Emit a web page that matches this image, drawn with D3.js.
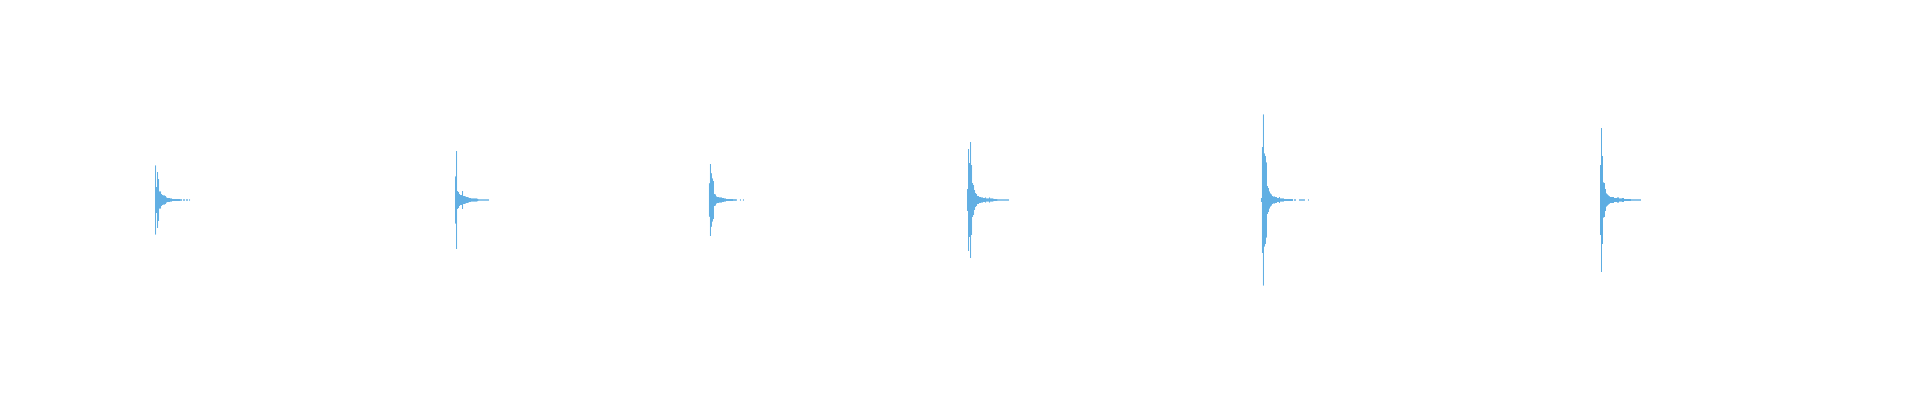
<!DOCTYPE html>
<html>
<head>
<meta charset="utf-8">
<script src="https://cdn.jsdelivr.net/npm/d3@7"></script>
<style>
  html, body { margin: 0; padding: 0; background: #fff; }
</style>
</head>
<body>
<div id="wave"></div>
<script>
"use strict";

var width = 1920;
var height = 400;

// clip length in seconds, one envelope bin = 6.25 ms
var duration = 12;
var binSize = 0.00625;

// onset time of each hit (s)
var onsets = [0.969, 2.844, 4.431, 6.044, 7.881, 10.0];

// peak amplitude per bin after each onset (% of full scale, symmetric)
var hit1 = [17.3, 6.5, 14, 10.5, 4.3, 4.3, 3, 2.5, 2.3, 2.3, 2, 1.3, 1, 1, 1, 0.8, 0.8, 0.5, 0.5, 0.5,
            0.5, 0.5, 0.5, 0.5, 0.5, 0.4, 0.4, 0, 0.35, 0.35, 0, 0.35, 0.35, 0, 0.35];
var hit2 = [11.8, 24.5, 4.5, 4, 3, 2.5, 2.5, 4.5, 2, 2, 1.8, 1.5, 1.5, 1.3, 1, 1, 0.8, 0.8, 0.8, 0.8,
            0.8, 0.8, 0.6, 0.4, 0.35, 0.35, 0.35, 0.35, 0.35, 0.35, 0.35, 0.35, 0.35, 0.35];
var hit3 = [8.4, 18, 13.4, 10.8, 9.5, 3, 2.8, 1.8, 1.5, 1.5, 1.3, 1.3, 1.3, 1, 1, 0.8, 0.8, 0.5, 0.5, 0.5,
            0.5, 0.5, 0.5, 0.5, 0.4, 0.4, 0.4, 0.35, 0, 0, 0, 0.35, 0, 0, 0.35];
var hit4 = [5.5, 25.5, 18.5, 29, 17.5, 8.5, 7.5, 5, 3.5, 3, 2, 2, 1.5, 1.5, 1.3, 1.3, 1, 1, 1.3, 0.8,
            0.8, 0.8, 1.3, 0.8, 0.8, 0.8, 0.6, 0.5, 0.5, 0.5, 0.4, 0.35, 0.35, 0.35, 0.35, 0.35, 0.35,
            0.35, 0.35, 0.35, 0.35, 0.35];
var hit5 = [1, 26.5, 42.8, 23.3, 22, 18.8, 7, 6, 4.3, 3.3, 2.8, 2, 1.7, 1.8, 1.5, 1.5, 1, 1, 1.5, 0.8,
            0.8, 0.8, 0.8, 0.5, 0.5, 0.5, 0.5, 0.5, 0.5, 0.5, 0.5, 0.5, 0, 0.35, 0.35, 0, 0, 0, 0.35,
            0.35, 0.35, 0.35, 0.35, 0.35, 0, 0, 0, 0.35];
var hit6 = [17.5, 36, 22, 8.8, 8.5, 5.5, 3.3, 2.8, 2.3, 1.9, 1.5, 1.5, 1.5, 1.5, 1, 1, 1, 1.3, 1.3, 0.8,
            0.8, 0.8, 1, 1, 0.5, 0.5, 0.5, 0.5, 0.5, 0.5, 0.5, 0.35, 0.35, 0.35, 0.35, 0.35, 0.35,
            0.35, 0.35, 0.35, 0.35];

var envelopes = [hit1, hit2, hit3, hit4, hit5, hit6];

var xScale = d3.scaleLinear()
               .domain([0, duration])
               .range([0, width]);

var yScale = d3.scaleLinear()
               .domain([-100, 100])
               .range([height, 0]);

var svg = d3.select("#wave")
            .append("svg")
            .attr("width", width)
            .attr("height", height);

// flatten hits into bins
var bins = [];
envelopes.forEach(function(env, h) {
   env.forEach(function(a, i) {
      if (a > 0) bins.push({ t: onsets[h] + i * binSize, a: a });
   });
});

svg.append("g")
   .selectAll("rect")
   .data(bins)
   .enter()
   .append("rect")
   .attr("x", function(d) { return xScale(d.t); })
   .attr("width", xScale(binSize) - xScale(0))
   .attr("y", function(d) { return yScale(d.a); })
   .attr("height", function(d) { return yScale(-d.a) - yScale(d.a); })
   .attr("fill", "#5dade2");
</script>
</body>
</html>
